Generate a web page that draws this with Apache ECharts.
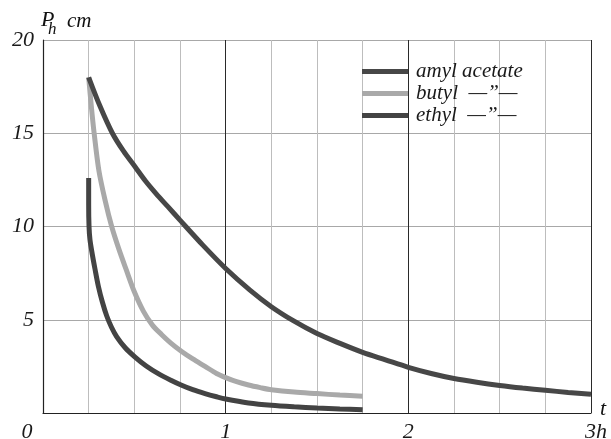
<!DOCTYPE html>
<html>
<head>
<meta charset="utf-8">
<script src="https://cdn.jsdelivr.net/npm/echarts@6/dist/echarts.min.js"></script>
<style>html,body{margin:0;padding:0;background:#fff;}#c{width:611px;height:439px;}</style>
</head>
<body>
<div id="c"></div>
<script>
// Data (t in hours, P_h in cm)
const amylT  = [0.25, 0.31, 0.38, 0.44, 0.504, 0.56, 0.62, 0.685, 0.75, 0.875, 1.0, 1.133, 1.25, 1.37, 1.5, 1.626, 1.75, 1.875, 2.0, 2.125, 2.25, 2.375, 2.5, 2.625, 2.75, 2.875, 3.0];
const amylP  = [18.0, 16.5, 15.0, 14.05, 13.2, 12.45, 11.75, 11.05, 10.34, 9.0, 7.75, 6.59, 5.7, 4.95, 4.26, 3.73, 3.25, 2.85, 2.45, 2.12, 1.85, 1.65, 1.48, 1.34, 1.22, 1.1, 1.0];
const butylT = [0.25, 0.265, 0.28, 0.306, 0.34, 0.376, 0.415, 0.455, 0.5, 0.55, 0.6, 0.65, 0.7, 0.759, 0.82, 0.887, 0.95, 1.0, 1.06, 1.125, 1.19, 1.25, 1.375, 1.5, 1.625, 1.75];
const butylP = [18.0, 16.4, 15.0, 13.0, 11.4, 10.0, 8.8, 7.7, 6.5, 5.45, 4.7, 4.2, 3.75, 3.3, 2.9, 2.5, 2.12, 1.9, 1.68, 1.5, 1.36, 1.25, 1.12, 1.04, 0.96, 0.9];
const ethylT = [0.25, 0.25, 0.252, 0.257, 0.27, 0.285, 0.303, 0.325, 0.349, 0.375, 0.403, 0.45, 0.504, 0.565, 0.631, 0.7, 0.759, 0.82, 0.887, 0.95, 1.0, 1.125, 1.25, 1.375, 1.5, 1.625, 1.75];
const ethylP = [12.6, 11.2, 10.0, 9.3, 8.5, 7.7, 6.8, 5.95, 5.2, 4.6, 4.1, 3.5, 3.0, 2.52, 2.11, 1.76, 1.49, 1.25, 1.04, 0.87, 0.75, 0.54, 0.41, 0.33, 0.27, 0.22, 0.18];
const seriesNames = ['amyl acetate', 'butyl', 'ethyl'];
const legendTexts = ['amyl acetate', 'butyl  \u2014\u201D\u2014', 'ethyl  \u2014\u201D\u2014'];
const yTicks = [5, 10, 15, 20];
const xTickLabels = {0: '0', 1: '1', 2: '2', 3: '3h'};

const zip = (a, b) => a.map((v, i) => [v, b[i]]);
const FONT = '"Liberation Serif", "DejaVu Serif", serif';
const TXT = '#1a1a1a';

const chart = echarts.init(document.getElementById('c'), null, {renderer: 'canvas'});
chart.setOption({
  animation: false,
  backgroundColor: '#fff',
  grid: {left: 43, right: 20, top: 40, bottom: 26, containLabel: false, outerBoundsMode: 'none'},
  legend: {
    data: seriesNames,
    orient: 'vertical',
    left: 357, top: 56,
    icon: 'rect',
    itemWidth: 46, itemHeight: 5,
    itemGap: 1,
    selectedMode: false,
    formatter: n => legendTexts[seriesNames.indexOf(n)],
    textStyle: {fontFamily: FONT, fontStyle: 'italic', fontSize: 21, color: TXT, lineHeight: 21, padding: [0, 0, 0, 3]}
  },
  xAxis: {
    type: 'value', min: 0, max: 3, interval: 0.25,
    axisLine: {show: true, lineStyle: {color: '#222', width: 1.2}},
    axisTick: {show: false},
    axisLabel: {
      interval: 0, margin: 8, showMinLabel: true, showMaxLabel: true,
      formatter: v => {
        if (v === 0) return '{z|' + xTickLabels[0] + '}';
        if (v === 3) return '{h|' + xTickLabels[3] + '}';
        return xTickLabels[v] !== undefined ? xTickLabels[v] : '';
      },
      fontFamily: FONT, fontStyle: 'italic', fontSize: 22, color: TXT,
      rich: {
        z: {fontFamily: FONT, fontStyle: 'italic', fontSize: 22, color: TXT, padding: [0, 32, 0, 0]},
        h: {fontFamily: FONT, fontStyle: 'italic', fontSize: 22, color: TXT, padding: [0, 0, 0, 10]}
      }
    },
    splitLine: {show: true, lineStyle: {color: ['#2a2a2a', '#bdbdbd', '#bdbdbd', '#bdbdbd'], width: 1}}
  },
  yAxis: {
    type: 'value', min: 0, max: 20, interval: 5,
    axisLine: {show: true, lineStyle: {color: '#222', width: 1.2}},
    axisTick: {show: false},
    axisLabel: {
      margin: 9,
      formatter: v => (yTicks.indexOf(v) >= 0 ? String(v) : ''),
      fontFamily: FONT, fontStyle: 'italic', fontSize: 22, color: TXT
    },
    splitLine: {show: true, lineStyle: {color: '#a8a8a8', width: 1}}
  },
  graphic: [
    {type: 'text', left: 41, top: 9, style: {text: 'P', font: 'italic 22px ' + FONT, fill: '#111'}},
    {type: 'text', left: 48, top: 21, style: {text: 'h', font: 'italic 17px ' + FONT, fill: '#111'}},
    {type: 'text', left: 67, top: 11, style: {text: 'cm', font: 'italic 21px ' + FONT, fill: '#111'}},
    {type: 'text', left: 600, top: 398, style: {text: 't', font: 'italic 22px ' + FONT, fill: '#111'}}
  ],
  series: [
    {name: seriesNames[0], type: 'line', data: zip(amylT, amylP), showSymbol: false, smooth: 0.3,
     color: '#474747', lineStyle: {width: 5, color: '#474747', cap: 'butt'}, z: 3},
    {name: seriesNames[1], type: 'line', data: zip(butylT, butylP), showSymbol: false, smooth: 0.3,
     color: '#a9a9a9', lineStyle: {width: 5, color: '#a9a9a9', cap: 'butt'}, z: 2},
    {name: seriesNames[2], type: 'line', data: zip(ethylT, ethylP), showSymbol: false, smooth: 0.3,
     color: '#434343', lineStyle: {width: 5, color: '#434343', cap: 'butt'}, z: 3}
  ]
});
</script>
</body>
</html>
